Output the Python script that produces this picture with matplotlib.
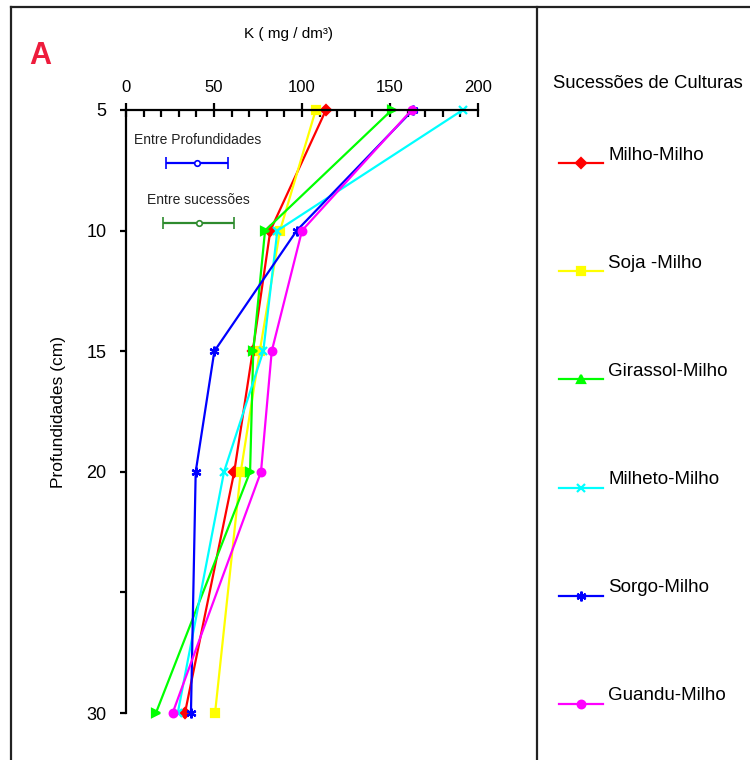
import matplotlib
matplotlib.use("Agg")
import matplotlib.pyplot as plt
from matplotlib.lines import Line2D
from matplotlib.ticker import MultipleLocator

plt.rcParams["font.family"] = ["Liberation Sans", "DejaVu Sans"]

# profundidades (cm) e teores de K (mg/dm3) por sucessão
profundidades = [5, 10, 15, 20, 30]
milho_milho = [113.6, 82.0, 72.0, 61.5, 33.5]
soja_milho = [107.8, 87.5, 76.0, 65.2, 50.6]
girassol_milho = [151.0, 79.0, 72.3, 70.5, 17.0]
milheto_milho = [191.3, 86.0, 78.0, 55.7, 29.4]
sorgo_milho = [163.0, 97.0, 50.2, 39.6, 36.9]
guandu_milho = [162.3, 100.0, 82.8, 76.7, 26.5]

series = ["Milho-Milho", "Soja -Milho", "Girassol-Milho",
          "Milheto-Milho", "Sorgo-Milho", "Guandu-Milho"]
valores = [milho_milho, soja_milho, girassol_milho,
           milheto_milho, sorgo_milho, guandu_milho]
cores = ["#ff0000", "#ffff00", "#00ff00", "#00ffff", "#0000ff", "#ff00ff"]
marcadores = ["D", "s", ">", "x", (6, 2, 0), "o"]
marc_legenda = ["D", "s", "^", "x", (6, 2, 0), "o"]
tamanhos = [5.5, 5.5, 6, 6, 7, 5.5]

# barras de DMS (centro, semi-amplitude, profundidade)
dms_rotulos = ["Entre Profundidades", "Entre sucessões"]
dms_centro = [40.5, 41.2]
dms_meia = [17.6, 20.2]
dms_prof = [7.2, 9.7]
dms_cores = ["#0000ff", "#2e8b2e"]

fig = plt.figure(figsize=(7.5, 7.6), dpi=100)
ax = fig.add_axes([126 / 750, 47 / 760, 352 / 750, 603 / 760])

for nome, v, c, m, s in zip(series, valores, cores, marcadores, tamanhos):
    ax.plot(v, profundidades, color=c, lw=1.6, marker=m, ms=s,
            mec=c, mew=1.6, clip_on=False)

for rot, cx, hw, y, c in zip(dms_rotulos, dms_centro, dms_meia, dms_prof, dms_cores):
    ax.errorbar([cx], [y], xerr=[hw], color=c, lw=1.6, capsize=4, capthick=1.6,
                marker="o", ms=4, mfc="white", mec=c, mew=1.2)
    ax.text(cx, y - 0.95, rot, ha="center", va="center", fontsize=10,
            color="#222222")

ax.set_xlim(0, 200)
ax.set_ylim(30, 5)
ax.xaxis.tick_top()
ax.set_xticks([0, 50, 100, 150, 200])
ax.xaxis.set_minor_locator(MultipleLocator(10))
ax.set_yticks([5, 10, 15, 20, 25, 30])
ax.set_yticklabels(["5", "10", "15", "20", "", "30"])
ax.tick_params(axis="x", which="major", direction="inout", length=10, width=1.6,
               labelsize=12, pad=6)
ax.tick_params(axis="x", which="minor", direction="in", length=5, width=1.6)
ax.tick_params(axis="y", which="major", direction="out", length=4, width=1.6,
               labelsize=13, pad=10)
ax.spines["bottom"].set_visible(False)
ax.spines["right"].set_visible(False)
ax.spines["top"].set_linewidth(1.6)
ax.spines["left"].set_linewidth(1.6)

fig.text(289 / 750, 1 - 34 / 760, "K ( mg / dm³)", ha="center", va="center",
         fontsize=11)
fig.text(58 / 750, 1 - 412 / 760, "Profundidades (cm)", ha="center",
         va="center", rotation=90, fontsize=12.5)
fig.text(40 / 750, 1 - 56 / 760, "A", ha="center", va="center", fontsize=22,
         fontweight="bold", color="#ee1c3c")

# moldura
kw = dict(transform=fig.transFigure, color="#222222", lw=1.6)
fig.add_artist(Line2D([11 / 750, 1], [1 - 7 / 760] * 2, **kw))
fig.add_artist(Line2D([11 / 750] * 2, [0, 1 - 7 / 760], **kw))
fig.add_artist(Line2D([537 / 750] * 2, [0, 1 - 7 / 760], **kw))

# legenda desenhada à mão (linha um pouco abaixo do texto, como no original)
fig.text(553 / 750, 1 - 84 / 760, "Sucessões de Culturas", ha="left",
         va="center", fontsize=13.3)
for i, (nome, c, m, s) in enumerate(zip(series, cores, marc_legenda, tamanhos)):
    yt = 1 - (155 + 108.2 * i) / 760
    yl = yt - 8 / 760
    fig.add_artist(Line2D([559 / 750, 603 / 750], [yl, yl],
                          transform=fig.transFigure, color=c, lw=1.6))
    fig.add_artist(Line2D([581 / 750], [yl], transform=fig.transFigure,
                          color=c, marker=m, ms=s, mec=c, mew=1.6, lw=0))
    fig.text(608 / 750, yt, nome, ha="left", va="center", fontsize=13.5)

fig.savefig("out.png", dpi=100)
